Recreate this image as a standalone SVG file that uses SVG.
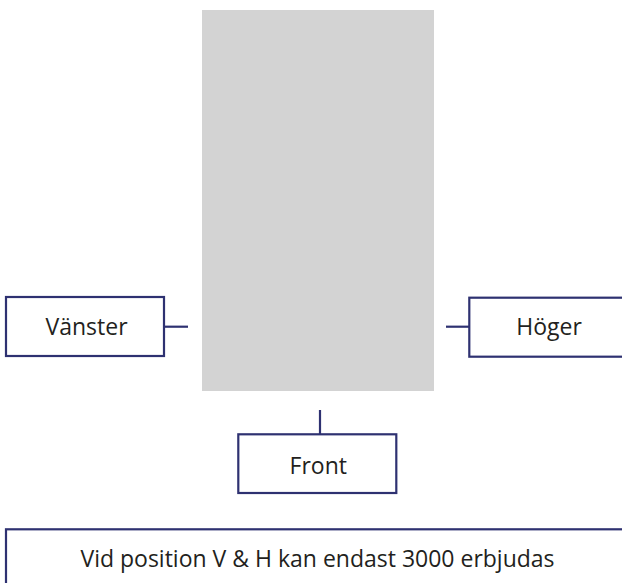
<svg xmlns="http://www.w3.org/2000/svg" width="622" height="583" viewBox="0 0 622 583">
  <style>
    .box { fill: #ffffff; stroke: #2e3171; stroke-width: 2.2; }
    .conn { stroke: #2e3171; stroke-width: 2.2; fill: none; }
    .label { font-family: "Open Sans", "Liberation Sans", sans-serif; font-size: 23px; fill: #231f20; text-anchor: middle; }
  </style>
  <rect width="622" height="583" fill="#ffffff"/>
  <g id="area">
    <rect x="202" y="10" width="232" height="381" fill="#d3d3d3"/>
  </g>
  <g id="connectors">
    <line class="conn" x1="165" y1="326.7" x2="188" y2="326.7"/>
    <line class="conn" x1="446" y1="326.7" x2="469" y2="326.7"/>
    <line class="conn" x1="320" y1="410" x2="320" y2="434"/>
  </g>
  <g id="vanster">
    <rect class="box" x="6" y="297" width="158" height="59"/>
    <text class="label" x="86.5" y="334.5">Vänster</text>
  </g>
  <g id="hoger">
    <rect class="box" x="469.3" y="297.7" width="158" height="59"/>
    <text class="label" x="549" y="334.5">Höger</text>
  </g>
  <g id="front">
    <rect class="box" x="238.3" y="434.3" width="158" height="58.7"/>
    <text class="label" x="318.3" y="474.2">Front</text>
  </g>
  <g id="note">
    <rect class="box" x="6" y="529.3" width="700" height="100"/>
    <text class="label" x="317.5" y="566.8">Vid position V &amp; H kan endast 3000 erbjudas</text>
  </g>
</svg>
